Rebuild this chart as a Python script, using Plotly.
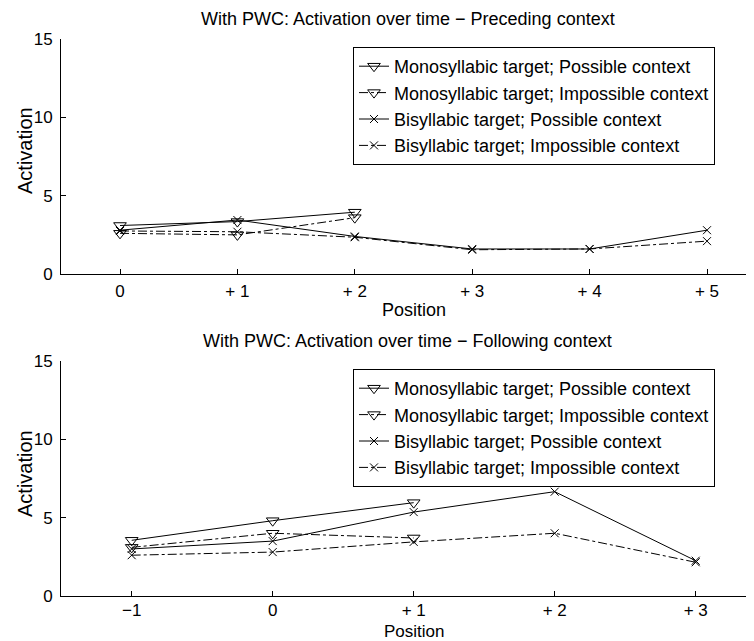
import plotly.graph_objects as go

# ---------------- data ----------------
series_names = [
    "Monosyllabic target; Possible context",
    "Monosyllabic target; Impossible context",
    "Bisyllabic target; Possible context",
    "Bisyllabic target; Impossible context",
]

top_positions = [0, 1, 2, 3, 4, 5]
top_tick_text = ["0", "+ 1", "+ 2", "+ 3", "+ 4", "+ 5"]
top_mono_possible = [3.1, 3.35, 3.95]
top_mono_impossible = [2.6, 2.5, 3.6]
top_bi_possible = [2.8, 3.45, 2.4, 1.6, 1.6, 2.8]
top_bi_impossible = [2.75, 2.7, 2.35, 1.55, 1.6, 2.1]

bottom_positions = [-1, 0, 1, 2, 3]
bottom_tick_text = ["\u22121", "0", "+ 1", "+ 2", "+ 3"]
bottom_mono_possible = [3.55, 4.8, 5.95]
bottom_mono_impossible = [3.1, 4.0, 3.7]
bottom_bi_possible = [3.0, 3.5, 5.35, 6.65, 2.25]
bottom_bi_impossible = [2.6, 2.8, 3.45, 4.0, 2.15]

y_ticks = [0, 5, 10, 15]
top_title = "With PWC: Activation over time \u2212 Preceding context"
bottom_title = "With PWC: Activation over time \u2212 Following context"

# ---------------- figure ----------------
W, H = 754, 641
OFF = 8  # page body margin offset compensation
FONT = "Liberation Sans, Arial, Helvetica, sans-serif"

styles = [
    dict(dash="solid", symbol="triangle-down-open", size=11),
    dict(dash="dashdot", symbol="triangle-down-open", size=11),
    dict(dash="solid", symbol="x-thin-open", size=8),
    dict(dash="dashdot", symbol="x-thin-open", size=8),
]

fig = go.Figure()

top_sets = [
    (top_positions[:len(top_mono_possible)], top_mono_possible),
    (top_positions[:len(top_mono_impossible)], top_mono_impossible),
    (top_positions, top_bi_possible),
    (top_positions, top_bi_impossible),
]
bottom_sets = [
    (bottom_positions[:len(bottom_mono_possible)], bottom_mono_possible),
    (bottom_positions[:len(bottom_mono_impossible)], bottom_mono_impossible),
    (bottom_positions, bottom_bi_possible),
    (bottom_positions, bottom_bi_impossible),
]

for sets, xa, ya, lg in [(top_sets, "x", "y", "legend"), (bottom_sets, "x2", "y2", "legend2")]:
    for (xs, ys), name, st in zip(sets, series_names, styles):
        fig.add_trace(go.Scatter(
            x=xs, y=ys, name=name, mode="lines+markers",
            line=dict(color="black", width=1, dash=st["dash"]),
            marker=dict(symbol=st["symbol"], size=st["size"], color="black",
                        line=dict(color="black", width=1)),
            xaxis=xa, yaxis=ya, legend=lg,
        ))


def px_x(v):
    return (v - OFF) / W


def px_y(v):
    return (H - (v - OFF)) / H


left_px = 61
top_y0, top_y15 = 274, 39.3
bot_y0, bot_y15 = 596, 360.7
right_px = W + OFF  # paper right edge in screen pixels

# x ranges: top 0 at 120 px, 117.4 px/unit; bottom 0 at 272.7 px, 141 px/unit
top_xr = [(left_px - 120) / 117.4, (right_px - 120) / 117.4]
bot_xr = [(left_px - 272.7) / 141.0, (right_px - 272.7) / 141.0]

axis_common = dict(
    showline=True, linecolor="black", linewidth=1,
    ticks="inside", ticklen=5, tickcolor="black", tickwidth=1,
    showgrid=False, zeroline=False, mirror=False, automargin=False,
    tickfont=dict(size=17, family=FONT, color="black"),
)

legend_common = dict(xanchor="left", yanchor="top",
                     bordercolor="black", borderwidth=1, bgcolor="white",
                     font=dict(size=18, family=FONT, color="black"))

fig.update_layout(
    width=W, height=H,
    margin=dict(l=0, r=0, t=0, b=0, autoexpand=False),
    paper_bgcolor="white", plot_bgcolor="white",
    font=dict(family=FONT, color="black", size=18),
    xaxis=dict(domain=[px_x(left_px), 1], anchor="y", range=top_xr,
               tickmode="array", tickvals=top_positions, ticktext=top_tick_text,
               ticklabelstandoff=2, **axis_common),
    yaxis=dict(domain=[px_y(top_y0), px_y(top_y15)], anchor="x",
               range=[0, 15], tickmode="array", tickvals=y_ticks,
               ticklabelstandoff=4, **axis_common),
    xaxis2=dict(domain=[px_x(left_px), 1], anchor="y2", range=bot_xr,
                tickmode="array", tickvals=bottom_positions, ticktext=bottom_tick_text,
                ticklabelstandoff=-1, **axis_common),
    yaxis2=dict(domain=[px_y(bot_y0), px_y(bot_y15)], anchor="x2",
                range=[0, 15], tickmode="array", tickvals=y_ticks,
                ticklabelstandoff=4, **axis_common),
    legend=dict(x=px_x(353), y=px_y(47), **legend_common),
    legend2=dict(x=px_x(353), y=px_y(369), **legend_common),
)

ann = []
for text, x, y, ang, fs in [
    (top_title, 407.5, 19, 0, 18),
    (bottom_title, 407.5, 341, 0, 18),
    ("Position", 414, 310, 0, 18),
    ("Position", 414, 631, 0, 17),
    ("Activation", 25, 151, -90, 20),
    ("Activation", 25, 474, -90, 20),
]:
    ann.append(dict(text=text, x=px_x(x), y=px_y(y), xref="paper", yref="paper",
                    showarrow=False, xanchor="center", yanchor="middle",
                    textangle=ang, font=dict(size=fs, family=FONT, color="black")))
fig.update_layout(annotations=ann)

fig.write_html("out.html")
